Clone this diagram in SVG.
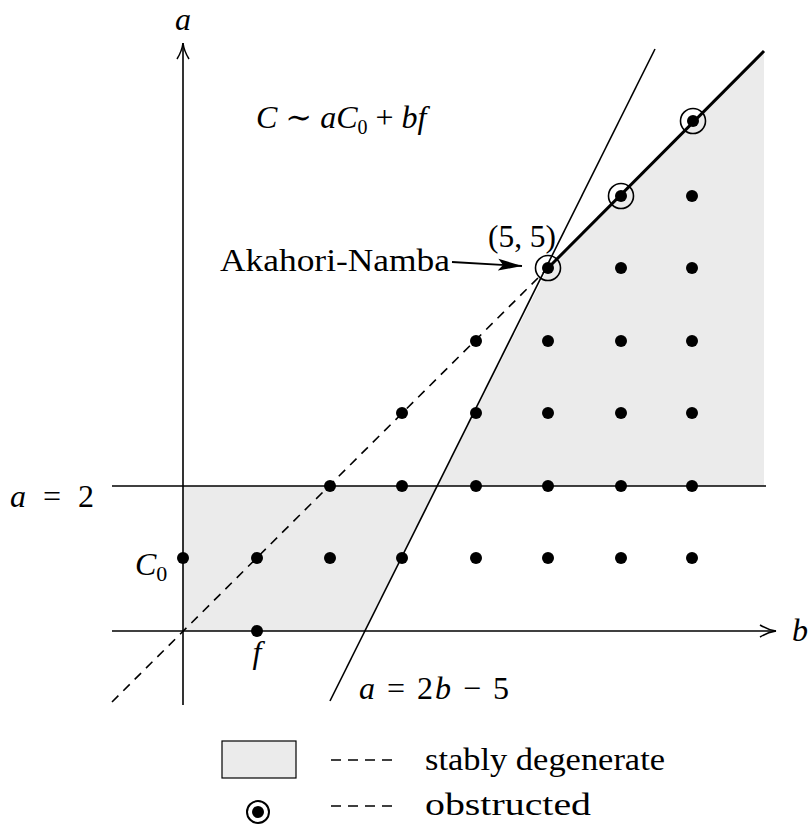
<svg xmlns="http://www.w3.org/2000/svg" width="809" height="825" viewBox="0 0 809 825">
<style>
.t{font-family:"Liberation Serif","DejaVu Serif",serif;font-size:32px;fill:#000}
.m{font-style:italic}
.ln{stroke:#000;stroke-width:1.6;fill:none}
.dot{fill:#000}
.ring{fill:none;stroke:#000;stroke-width:1.6}
</style>
<defs>
<marker id="arr" markerWidth="20" markerHeight="14" refX="18" refY="7" orient="auto" markerUnits="userSpaceOnUse">
<path d="M2,1 Q10,6 18,7 Q10,8 2,13" fill="none" stroke="#000" stroke-width="1.5"/>
</marker>
<marker id="arr2" markerWidth="26" markerHeight="14" refX="24" refY="7" orient="auto" markerUnits="userSpaceOnUse">
<path d="M0,1 L24,7 L0,13 L5,7 Z" fill="#000"/>
</marker>
</defs>
<g id="shading" fill="#ebebeb" stroke="none">
<polygon points="183,486 183,631 365,631 438,486"/>
<polygon points="438,486 548,268 764,51 764,486"/>
</g>
<g id="connectors">
<line class="ln" x1="112" y1="631" x2="776" y2="631" marker-end="url(#arr)"/>
<line class="ln" x1="183" y1="705" x2="183" y2="43" marker-end="url(#arr)"/>
<line class="ln" x1="112" y1="486" x2="766" y2="486"/>
<line class="ln" x1="330" y1="701" x2="655" y2="49"/>
<line class="ln" x1="112" y1="702" x2="548" y2="268" stroke-dasharray="9,7"/>
<line x1="548" y1="268" x2="764" y2="51" stroke="#000" stroke-width="3"/>
<line x1="452" y1="262" x2="522" y2="266" stroke="#000" stroke-width="1.8" marker-end="url(#arr2)"/>
</g>
<g id="points">
<circle class="dot" cx="183" cy="558" r="6"/>
<circle class="dot" cx="257" cy="558" r="6"/>
<circle class="dot" cx="330" cy="558" r="6"/>
<circle class="dot" cx="402" cy="558" r="6"/>
<circle class="dot" cx="476" cy="558" r="6"/>
<circle class="dot" cx="548" cy="558" r="6"/>
<circle class="dot" cx="621" cy="558" r="6"/>
<circle class="dot" cx="692" cy="558" r="6"/>
<circle class="dot" cx="257" cy="631" r="6"/>
<circle class="dot" cx="330" cy="486" r="6"/>
<circle class="dot" cx="402" cy="486" r="6"/>
<circle class="dot" cx="476" cy="486" r="6"/>
<circle class="dot" cx="548" cy="486" r="6"/>
<circle class="dot" cx="621" cy="486" r="6"/>
<circle class="dot" cx="692" cy="486" r="6"/>
<circle class="dot" cx="402" cy="413" r="6"/>
<circle class="dot" cx="476" cy="413" r="6"/>
<circle class="dot" cx="548" cy="413" r="6"/>
<circle class="dot" cx="621" cy="413" r="6"/>
<circle class="dot" cx="692" cy="413" r="6"/>
<circle class="dot" cx="476" cy="341" r="6"/>
<circle class="dot" cx="548" cy="341" r="6"/>
<circle class="dot" cx="621" cy="341" r="6"/>
<circle class="dot" cx="692" cy="341" r="6"/>
<circle class="dot" cx="548" cy="268" r="6"/>
<circle class="dot" cx="621" cy="268" r="6"/>
<circle class="dot" cx="692" cy="268" r="6"/>
<circle class="dot" cx="621" cy="196" r="6"/>
<circle class="dot" cx="692" cy="196" r="6"/>
<circle class="dot" cx="693" cy="121" r="6"/>
<circle class="ring" cx="548" cy="268" r="12.5"/>
<circle class="ring" cx="621" cy="196" r="12.5"/>
<circle class="ring" cx="693" cy="121" r="12.5"/>
</g>
<g id="labels">
<text class="t m" x="183" y="30" text-anchor="middle">a</text>
<text class="t m" x="800" y="641" text-anchor="middle">b</text>
<text class="t" x="256" y="128" font-size="29"><tspan class="m">C</tspan> ∼ <tspan class="m">aC</tspan><tspan font-size="20" dy="6">0</tspan><tspan dy="-6"> + </tspan><tspan class="m">bf</tspan></text>
<text class="t" x="488" y="247" textLength="68" lengthAdjust="spacingAndGlyphs">(5, 5)</text>
<text class="t" x="220" y="271" textLength="230" lengthAdjust="spacingAndGlyphs">Akahori-Namba</text>
<text class="t" x="10" y="507" textLength="84" lengthAdjust="spacing"><tspan class="m">a</tspan> = 2</text>
<text class="t m" x="135" y="575">C<tspan font-size="22" dy="6" font-style="normal">0</tspan></text>
<text class="t m" x="257" y="663" text-anchor="middle">f</text>
<text class="t" x="359" y="699" textLength="150" lengthAdjust="spacing"><tspan class="m">a</tspan> = 2<tspan class="m">b</tspan> − 5</text>
</g>
<g id="legend">
<rect x="222" y="741" width="74" height="37" fill="#ebebeb" stroke="#000" stroke-width="1.2"/>
<line x1="331" y1="760" x2="392" y2="760" stroke="#000" stroke-width="1.4" stroke-dasharray="10,7"/>
<text class="t" x="425" y="770" textLength="240" lengthAdjust="spacingAndGlyphs">stably degenerate</text>
<circle cx="258" cy="812" r="6" fill="#000"/>
<circle cx="258" cy="812" r="11" fill="none" stroke="#000" stroke-width="2"/>
<line x1="331" y1="806" x2="392" y2="806" stroke="#000" stroke-width="1.4" stroke-dasharray="10,7"/>
<text class="t" x="425" y="815" textLength="166" lengthAdjust="spacingAndGlyphs">obstructed</text>
</g>
</svg>
